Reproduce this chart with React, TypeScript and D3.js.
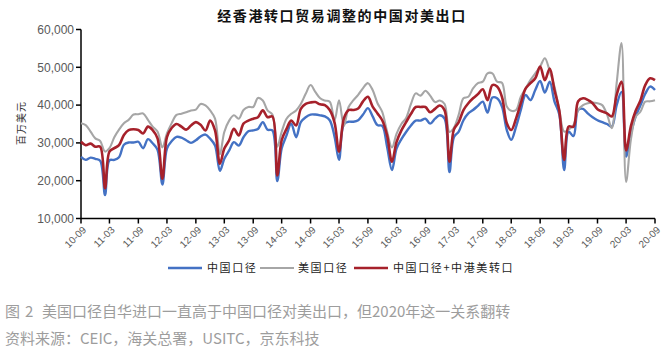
import React from "react";
import * as d3 from "d3";

// Monthly data, 2010-09 .. 2020-09 (USD million)
const startMonth = "2010-09";
const chinaSeries: number[] = [
  26300, 25500, 26100, 25800, 25300, 16200, 25400, 25500, 26200, 29500,
  30100, 30100, 30300, 28600, 31000, 29900, 28200, 19000, 28500, 30500,
  31600, 31400, 30700, 30000, 30700, 31700, 32200, 31100, 29300, 22600,
  25800, 28000, 30200, 29300, 31500, 33100, 33300, 33700, 35500, 33500,
  33300, 19900, 28500, 32000, 35100, 31500, 35500, 36800, 37500, 37500,
  37300, 37000, 36000, 31600, 25500, 35000, 35600, 35600, 36000, 37500,
  39200, 37000, 34700, 34500, 29000, 22800, 28500, 31000, 32900, 34600,
  35900, 35900, 36400, 35100, 36400, 37300, 36400, 22300, 31500, 33000,
  36000, 37800, 38700, 39800, 40900, 38000, 42000, 41800, 39600, 33400,
  30800, 34300, 38700, 42700, 41300, 44000, 46400, 43300, 46200, 41000,
  37500, 22800, 33000, 31800, 38700, 39000, 37800, 36800, 36000, 35500,
  35000, 34300, 40000, 43500, 26400, 32500, 37000, 40000, 43000, 44900,
  44000,
];
const usSeries: number[] = [
  35200, 34700, 33000, 31200, 30500, 27700, 28600, 31500, 33500, 35200,
  36100, 37500, 37600, 37800, 36100, 34300, 33000, 28800, 32500, 35300,
  37400, 37700, 38100, 38600, 38800, 40300, 39900, 38600, 36400, 27000,
  32900, 35900, 37300, 36400, 38700, 39500, 39500, 41900, 41200, 38600,
  37500, 29000, 32900, 36400, 37700, 38600, 40300, 43000, 45300, 43500,
  41800, 41200, 40900, 36000, 41300, 34500, 39500, 41300, 42700, 44500,
  45800, 44000, 40500, 38200, 33000, 28800, 32400, 35000, 36600, 40300,
  43100, 42500, 43800, 42500, 40800, 41200, 40300, 32900, 34000, 37500,
  41800, 42200, 44400, 45800, 46200, 48400, 48400, 46200, 45900, 39600,
  38500, 38700, 42200, 44400, 46600, 48400, 50200, 52400, 49000, 44900,
  38700, 33000, 33500, 34700, 38700, 40000, 40500, 40700, 40500, 40000,
  37500, 33900, 45800, 56400, 19700, 31000, 36900, 38300, 40900, 41000,
  41300,
];
const adjustedSeries: number[] = [
  30300, 29400, 29800, 29000, 29000, 18000, 27700, 28600, 29400, 32100,
  33400, 33600, 33400, 32500, 34300, 33400, 31200, 20500, 31500, 34000,
  35000, 34300, 33500, 34600, 35500, 34800, 33300, 35900, 33300, 24500,
  28500, 30700, 33700, 32000, 35100, 35900, 36400, 36800, 38600, 36800,
  37000, 21400, 30700, 33700, 35900, 34600, 39000, 40300, 40700, 40800,
  40200, 40000, 38700, 35300, 27700, 36500, 38700, 38700, 39100, 41000,
  42200, 39600, 37800, 36000, 32000, 25000, 30200, 33300, 35500, 37700,
  39500, 39500, 39500, 38100, 39000, 39900, 38600, 25000, 33500, 35500,
  38700, 40500, 41800, 42900, 44200, 41300, 45300, 44900, 42200, 35200,
  33400, 36500, 40500, 44400, 45800, 47100, 50200, 46600, 49700, 44000,
  38500, 25500, 34300, 34300, 41000, 41800, 41400, 40500, 38900, 38300,
  37800, 37000, 42700, 46200, 28000, 34500, 38500, 41300, 45300, 47100,
  46600,
];
const seriesNames = ["中国口径", "美国口径", "中国口径+中港美转口"];
const seriesColors = ["#4472C4", "#A6A6A6", "#A6212B"];
const yTicks = [10000, 20000, 30000, 40000, 50000, 60000];
const titleText = "经香港转口贸易调整的中国对美出口";
const yLabel = "百万美元";
const captionFig = ["图", "2", "美国口径自华进口一直高于中国口径对美出口，但2020年这一关系翻转"];
const caption2 = "资料来源：CEIC，海关总署，USITC，京东科技";

const W = 672;
const H = 356;
const left = 81;
const right = 655;
const top = 29.5;
const bottom = 218.5;

export default function App() {
  const parse = d3.timeParse("%Y-%m");
  const start = parse(startMonth) as Date;
  const dates = chinaSeries.map((_, i) => d3.timeMonth.offset(start, i));
  const end = dates[dates.length - 1];
  const x = d3.scaleTime().domain([start, end]).range([left, right]);
  const y = d3.scaleLinear().domain([10000, 60000]).range([bottom, top]);
  const xTicks = d3.timeMonth.range(start, d3.timeMonth.offset(end, 1), 6);
  const fmt = d3.timeFormat("%y-%m");
  const fmtY = d3.format(",");
  const line = d3
    .line<number>()
    .x((_, i) => x(dates[i]))
    .y((d) => y(d))
    .curve(d3.curveCatmullRom.alpha(0.5));
  const all = [chinaSeries, usSeries, adjustedSeries];
  const widths = [2.4, 2.1, 2.6];
  const cjk = "'Noto Sans CJK SC', 'Noto Sans', sans-serif";
  const legendItems = [
    { lx: 168, tx: 207 },
    { lx: 260, tx: 298 },
    { lx: 354, tx: 393 },
  ];
  return (
    <svg
      width={W}
      height={H}
      style={{ position: "absolute", left: 0, top: 0, background: "#fff" }}
    >
      <rect x={0} y={0} width={W} height={H} fill="#fff" />
      <text
        x={342}
        y={21}
        textAnchor="middle"
        fontFamily={cjk}
        fontWeight={700}
        fontSize={14}
        letterSpacing={1.6}
        fill="#111"
      >
        {titleText}
      </text>
      <text
        transform={`translate(25,123) rotate(-90)`}
        textAnchor="middle"
        fontFamily={cjk}
        fontSize={10}
        letterSpacing={1}
        fill="#333"
      >
        {yLabel}
      </text>
      {/* y axis */}
      <line x1={left} x2={left} y1={top} y2={bottom} stroke="#000" strokeWidth={1.5} />
      {yTicks.map((t) => (
        <g key={t}>
          <line x1={left - 5} x2={left} y1={y(t)} y2={y(t)} stroke="#000" strokeWidth={1.5} />
          <text
            x={left - 7}
            y={y(t)}
            dy="0.35em"
            textAnchor="end"
            fontFamily="'Liberation Sans', Arial, sans-serif"
            fontSize={12}
            fill="#595959"
          >
            {fmtY(t)}
          </text>
        </g>
      ))}
      {/* x axis */}
      <line x1={left} x2={right} y1={bottom} y2={bottom} stroke="#000" strokeWidth={1.5} />
      {xTicks.map((d) => (
        <g key={+d}>
          <line x1={x(d)} x2={x(d)} y1={bottom} y2={bottom + 5} stroke="#000" strokeWidth={1.5} />
          <text
            transform={`translate(${x(d) + 1},${bottom + 7}) rotate(-45)`}
            textAnchor="end"
            dy="0.7em"
            fontFamily="'Liberation Sans', Arial, sans-serif"
            fontSize={10}
            fill="#595959"
          >
            {fmt(d)}
          </text>
        </g>
      ))}
      {/* lines */}
      {all.map((s, i) => (
        <path
          key={i}
          d={line(s) || ""}
          fill="none"
          stroke={seriesColors[i]}
          strokeWidth={widths[i]}
          strokeLinejoin="round"
        />
      ))}
      {/* legend */}
      {legendItems.map((it, i) => (
        <g key={i}>
          <line
            x1={it.lx}
            x2={it.lx + 34}
            y1={268}
            y2={268}
            stroke={seriesColors[i]}
            strokeWidth={widths[i]}
          />
          <text
            x={it.tx}
            y={272}
            fontFamily={cjk}
            fontSize={11}
            letterSpacing={1.6}
            fill="#222"
          >
            {seriesNames[i]}
          </text>
        </g>
      ))}
      {/* caption */}
      <text y={317} fontFamily={cjk} fontSize={15} fill="#9d9d9d">
        <tspan x={5}>{captionFig[0]}</tspan>
        <tspan x={25}>{captionFig[1]}</tspan>
        <tspan x={42}>{captionFig[2]}</tspan>
      </text>
      <text x={5} y={344} fontFamily={cjk} fontSize={15} fill="#9d9d9d">
        {caption2}
      </text>
    </svg>
  );
}
